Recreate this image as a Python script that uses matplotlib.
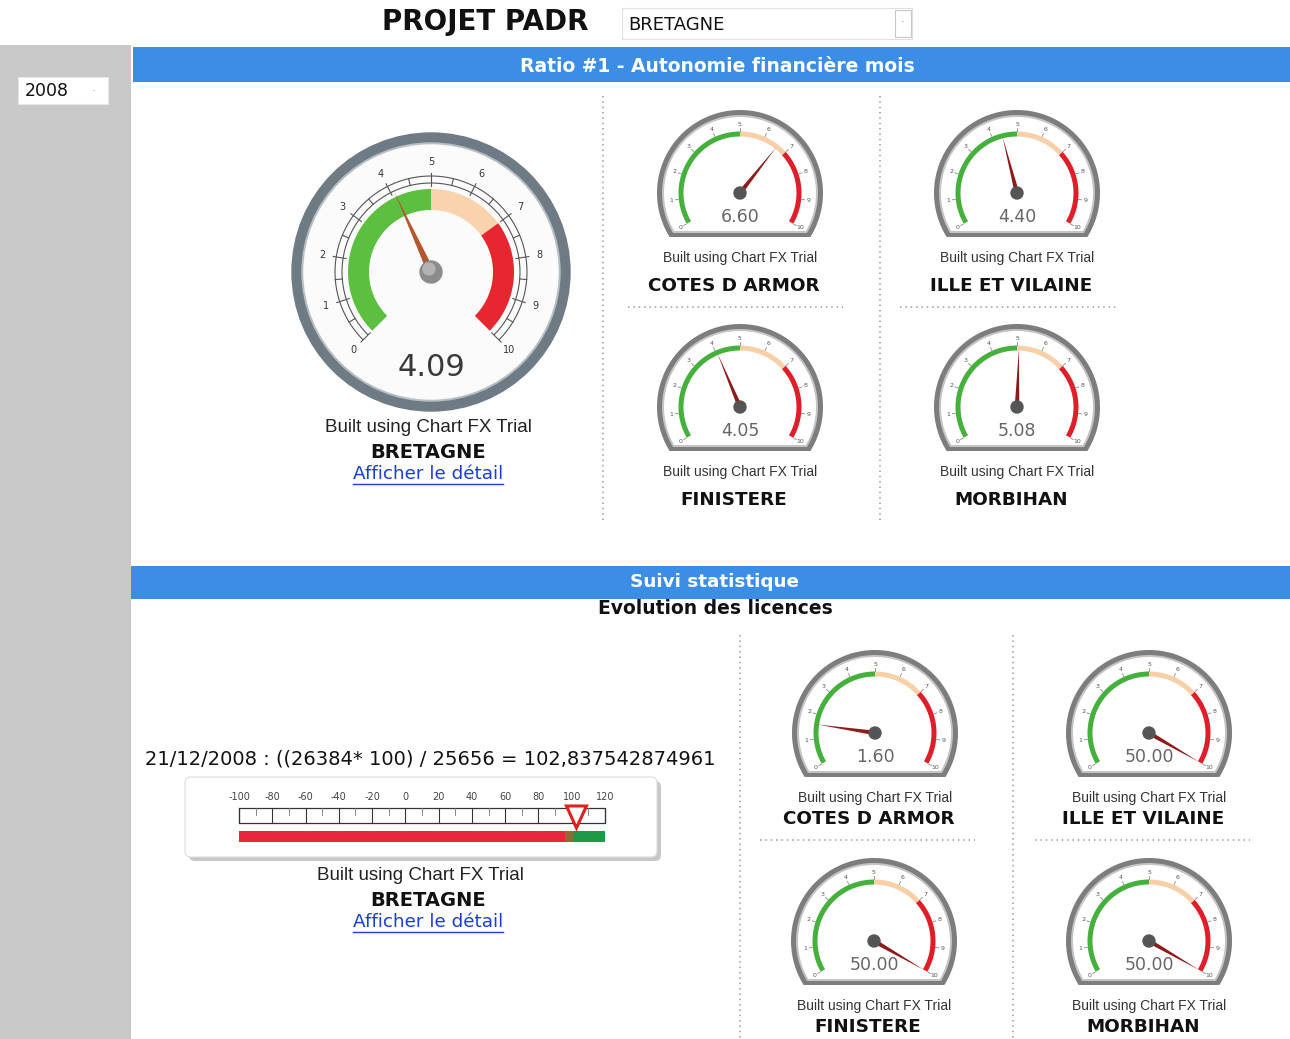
import numpy as np
import matplotlib
matplotlib.use("Agg")
import matplotlib.pyplot as plt
from matplotlib.patches import Circle, Rectangle, FancyBboxPatch, Polygon

# donnees
regions = ["COTES D ARMOR", "ILLE ET VILAINE", "FINISTERE", "MORBIHAN"]
ratio_bretagne = 4.09
ratio_values = [6.60, 4.40, 4.05, 5.08]
licence_values = [1.60, 50.00, 50.00, 50.00]
licence_bretagne = 102.837542874961
licence_formula = "21/12/2008 : ((26384* 100) / 25656 = 102,837542874961"
gauge_ticks = list(range(0, 11))
band_limits = [0, 5, 7, 10]
linear_ticks = [-100, -80, -60, -40, -20, 0, 20, 40, 60, 80, 100, 120]
linear_limits = [-100, 96, 101, 120]

BLUE = "#3b8de6"
band_colors = ["#45b03b", "#f8cfa6", "#de1f2a"]
main_band_colors = ["#5dbf40", "#f9d3ad", "#e8262f"]
SANS = ["DejaVu Sans"]
ARIAL = ["Liberation Sans", "DejaVu Sans"]

fig = plt.figure(figsize=(12.9, 10.39), dpi=100)
ax = fig.add_axes([0, 0, 1, 1])
ax.set_xlim(0, 1290)
ax.set_ylim(1039, 0)
ax.axis("off")


def pt(cx, cy, r, a):
    a = np.radians(a)
    return cx + r * np.cos(a), cy - r * np.sin(a)


def band(cx, cy, r_in, r_out, a0, a1, color, z=3):
    t = np.linspace(a0, a1, 60)
    xo, yo = pt(cx, cy, r_out, t)
    xi, yi = pt(cx, cy, r_in, t[::-1])
    ax.fill(np.r_[xo, xi], np.r_[yo, yi], color=color, lw=0, zorder=z)


def arc(cx, cy, r, a0, a1, color, lw, z=3):
    t = np.linspace(a0, a1, 80)
    x, y = pt(cx, cy, r, t)
    ax.plot(x, y, color=color, lw=lw, zorder=z, solid_capstyle="butt")


def needle(cx, cy, a, length, width, color, z=6):
    ar = np.radians(a)
    ux, uy = np.cos(ar), -np.sin(ar)
    px, py = -uy, ux
    tail = width
    pts = [(cx + ux * length, cy + uy * length),
           (cx + px * width / 2 - ux * tail, cy + py * width / 2 - uy * tail),
           (cx - px * width / 2 - ux * tail, cy - py * width / 2 - uy * tail)]
    ax.add_patch(Polygon(pts, closed=True, color=color, lw=0, zorder=z))


def underline_text(x, y, s, size):
    t = ax.text(x, y, s, ha="center", va="center", fontsize=size,
                color="#1a3fd0", family=SANS)
    fig.canvas.draw()
    bb = t.get_window_extent().transformed(ax.transData.inverted())
    ax.plot([bb.x0, bb.x1], [y + 10, y + 10], color="#1a3fd0", lw=1)


# fond
ax.add_patch(Rectangle((0, 45), 131, 994, color="#c9c9c9", lw=0, zorder=0))
ax.add_patch(Rectangle((133, 47), 1157, 35, color=BLUE, lw=0, zorder=1))
ax.add_patch(Rectangle((131, 566), 1159, 33, color=BLUE, lw=0, zorder=1))

# en-tete
ax.text(485, 22, "PROJET PADR", ha="center", va="center", fontsize=20,
        fontweight="bold", color="#111", family=SANS)
ax.add_patch(Rectangle((622, 8), 290, 31, facecolor="white",
                       edgecolor="#e2e2e2", lw=0.8, zorder=1))
ax.add_patch(Rectangle((895, 10), 16, 27, facecolor="white",
                       edgecolor="#c8c8c8", lw=0.8, zorder=2))
ax.text(903, 22, "·", ha="center", va="center", fontsize=8, color="#777")
ax.text(628, 25, "BRETAGNE", ha="left", va="center", fontsize=13,
        color="#111", family=SANS)
ax.text(717, 67, "Ratio #1 - Autonomie financière mois", ha="center",
        va="center", fontsize=13.5, fontweight="bold", color="white",
        family=SANS, zorder=2)
ax.add_patch(Rectangle((18, 77), 90, 27, facecolor="white",
                       edgecolor="#e6e6e6", lw=0.8, zorder=1))
ax.text(25, 91, "2008", ha="left", va="center", fontsize=12.5,
        color="#111", family=SANS, zorder=2)
ax.text(94, 91, "·", ha="center", va="center", fontsize=8, color="#999", zorder=2)

# jauge principale
cx, cy = 431, 272
ax.add_patch(Circle((cx, cy), 139, color="#6f7b84", zorder=2))
ax.add_patch(Circle((cx, cy), 129, color="#b9c0c5", zorder=2))
ax.add_patch(Circle((cx, cy), 127, color="#fbfbfb", zorder=2))


def main_angle(v):
    return 225 - np.clip(v, 0, 10) * 27


for i, col in enumerate(main_band_colors):
    band(cx, cy, 62, 83, main_angle(band_limits[i]),
         main_angle(band_limits[i + 1]), col)
for r in (89, 96):
    arc(cx, cy, r, main_angle(0), main_angle(10), "#555", 0.8)
for v in np.arange(0, 10.01, 0.5):
    r0, r1 = (86, 99) if v % 1 == 0 else (89, 96)
    x0, y0 = pt(cx, cy, r0, main_angle(v))
    x1, y1 = pt(cx, cy, r1, main_angle(v))
    ax.plot([x0, x1], [y0, y1], color="#555", lw=0.8, zorder=3)
for v in gauge_ticks:
    x, y = pt(cx, cy, 110, main_angle(v))
    ax.text(x, y, str(v), ha="center", va="center", fontsize=7,
            color="#333", family=SANS, zorder=4)
needle(cx, cy, main_angle(ratio_bretagne), 88, 8, "#b4562e")
ax.add_patch(Circle((cx, cy), 11, color="#8c8c8c", zorder=7))
ax.add_patch(Circle((cx - 2, cy - 3), 6, color="#b3b3b3", zorder=7))
ax.text(cx, cy + 95, f"{ratio_bretagne:.2f}", ha="center", va="center",
        fontsize=22, color="#3a3a3a", family=SANS, zorder=4)

ax.text(428, 428, "Built using Chart FX Trial", ha="center", va="center",
        fontsize=13.5, color="#222", family=ARIAL)
ax.text(428, 452, "BRETAGNE", ha="center", va="center", fontsize=14,
        fontweight="bold", color="#111", family=SANS)
underline_text(428, 474, "Afficher le détail", 13.2)


# petites jauges
def small_angle(v):
    return 210 - np.clip(v, 0, 10) * 24


def dome(cx, cy, R, h, color, z):
    a = np.degrees(np.arcsin(h / R))
    t = np.linspace(-a, 180 + a, 120)
    x, y = pt(cx, cy, R, t)
    ax.fill(x, y, color=color, lw=0, zorder=z)


def small_gauge(cx, cy, value, name, name_dy):
    dome(cx, cy, 83, 44, "#7d7d7d", 2)
    dome(cx, cy, 78, 40, "#c4c4c4", 2)
    dome(cx, cy, 76, 38, "white", 2)
    for i, col in enumerate(band_colors):
        band(cx, cy, 56.5, 61.5, small_angle(band_limits[i]),
             small_angle(band_limits[i + 1]), col)
    for v in gauge_ticks:
        x0, y0 = pt(cx, cy, 62, small_angle(v))
        x1, y1 = pt(cx, cy, 65, small_angle(v))
        ax.plot([x0, x1], [y0, y1], color="#888", lw=0.6, zorder=3)
        x, y = pt(cx, cy, 69, small_angle(v))
        ax.text(x, y, str(v), ha="center", va="center", fontsize=4.5,
                color="#555", family=SANS, zorder=4)
    needle(cx, cy, small_angle(value), 58, 5, "#8e1b1b")
    ax.add_patch(Circle((cx, cy), 6, color="#555", zorder=7))
    ax.text(cx, cy + 24, f"{value:.2f}", ha="center", va="center",
            fontsize=12.5, color="#666", family=SANS, zorder=4)
    ax.text(cx, cy + 65, "Built using Chart FX Trial", ha="center",
            va="center", fontsize=10, color="#333", family=ARIAL)
    ax.text(cx - 6, cy + name_dy, name, ha="center", va="center",
            fontsize=13.2, fontweight="bold", color="#111", family=SANS)


top_centers = [(740, 193), (1017, 193), (740, 407), (1017, 407)]
bottom_centers = [(875, 733), (1149, 733), (874, 941), (1149, 941)]
for (gx, gy), v, n in zip(top_centers, ratio_values, regions):
    small_gauge(gx, gy, v, n, 93)
for (gx, gy), v, n in zip(bottom_centers, licence_values, regions):
    small_gauge(gx, gy, v, n, 86)

# separateurs pointilles
dots = dict(color="#9a9a9a", lw=1.1, ls=(0, (1, 2.5)), zorder=1)
ax.plot([603, 603], [96, 520], **dots)
ax.plot([880, 880], [96, 520], **dots)
ax.plot([628, 843], [307, 307], **dots)
ax.plot([900, 1118], [307, 307], **dots)
ax.plot([740, 740], [635, 1039], **dots)
ax.plot([1013, 1013], [635, 1039], **dots)
ax.plot([760, 975], [840, 840], **dots)
ax.plot([1035, 1250], [840, 840], **dots)

# suivi statistique
ax.text(715, 582, "Suivi statistique", ha="center", va="center",
        fontsize=13.2, fontweight="bold", color="white", family=SANS, zorder=2)
ax.text(715, 609, "Evolution des licences", ha="center", va="center",
        fontsize=13.5, fontweight="bold", color="#111", family=SANS)
ax.text(145, 759, licence_formula, ha="left", va="center", fontsize=14,
        color="#111", family=SANS)

# jauge lineaire
ax.add_patch(FancyBboxPatch((189, 781), 472, 80, boxstyle="round,pad=0,rounding_size=6",
                            facecolor="#c8c8c8", edgecolor="none", zorder=1))
ax.add_patch(FancyBboxPatch((185, 777), 472, 80, boxstyle="round,pad=0,rounding_size=6",
                            facecolor="white", edgecolor="#dcdcdc", lw=0.8, zorder=2))


def lin_x(v):
    return 239 + (v - linear_ticks[0]) * 366 / (linear_ticks[-1] - linear_ticks[0])


ax.add_patch(Rectangle((lin_x(linear_ticks[0]), 808),
                       lin_x(linear_ticks[-1]) - lin_x(linear_ticks[0]), 15,
                       facecolor="white", edgecolor="#333", lw=0.9, zorder=3))
for v in linear_ticks:
    ax.text(lin_x(v), 797, str(v), ha="center", va="center", fontsize=7,
            color="#444", family=SANS, zorder=3)
    ax.plot([lin_x(v), lin_x(v)], [808, 823], color="#333", lw=0.8, zorder=3)
for v in np.arange(linear_ticks[0] + 10, linear_ticks[-1], 20):
    ax.plot([lin_x(v), lin_x(v)], [808, 815], color="#777", lw=0.6, zorder=3)
lin_colors = ["#e8283a", "#8e6a34", "#1c9a48"]
for i, col in enumerate(lin_colors):
    x0, x1 = lin_x(linear_limits[i]), lin_x(linear_limits[i + 1])
    ax.add_patch(Rectangle((x0, 831), x1 - x0, 11, color=col, lw=0, zorder=3))
mx = lin_x(licence_bretagne)
ax.add_patch(Polygon([(mx - 10, 806), (mx + 10, 806), (mx, 828)], closed=True,
                     facecolor="white", edgecolor="#e0201e", lw=2.2, zorder=5))

ax.text(420, 876, "Built using Chart FX Trial", ha="center", va="center",
        fontsize=13.5, color="#222", family=ARIAL)
ax.text(428, 901, "BRETAGNE", ha="center", va="center", fontsize=14,
        fontweight="bold", color="#111", family=SANS)
underline_text(428, 922, "Afficher le détail", 13.2)

fig.savefig("out.png", dpi=100)
